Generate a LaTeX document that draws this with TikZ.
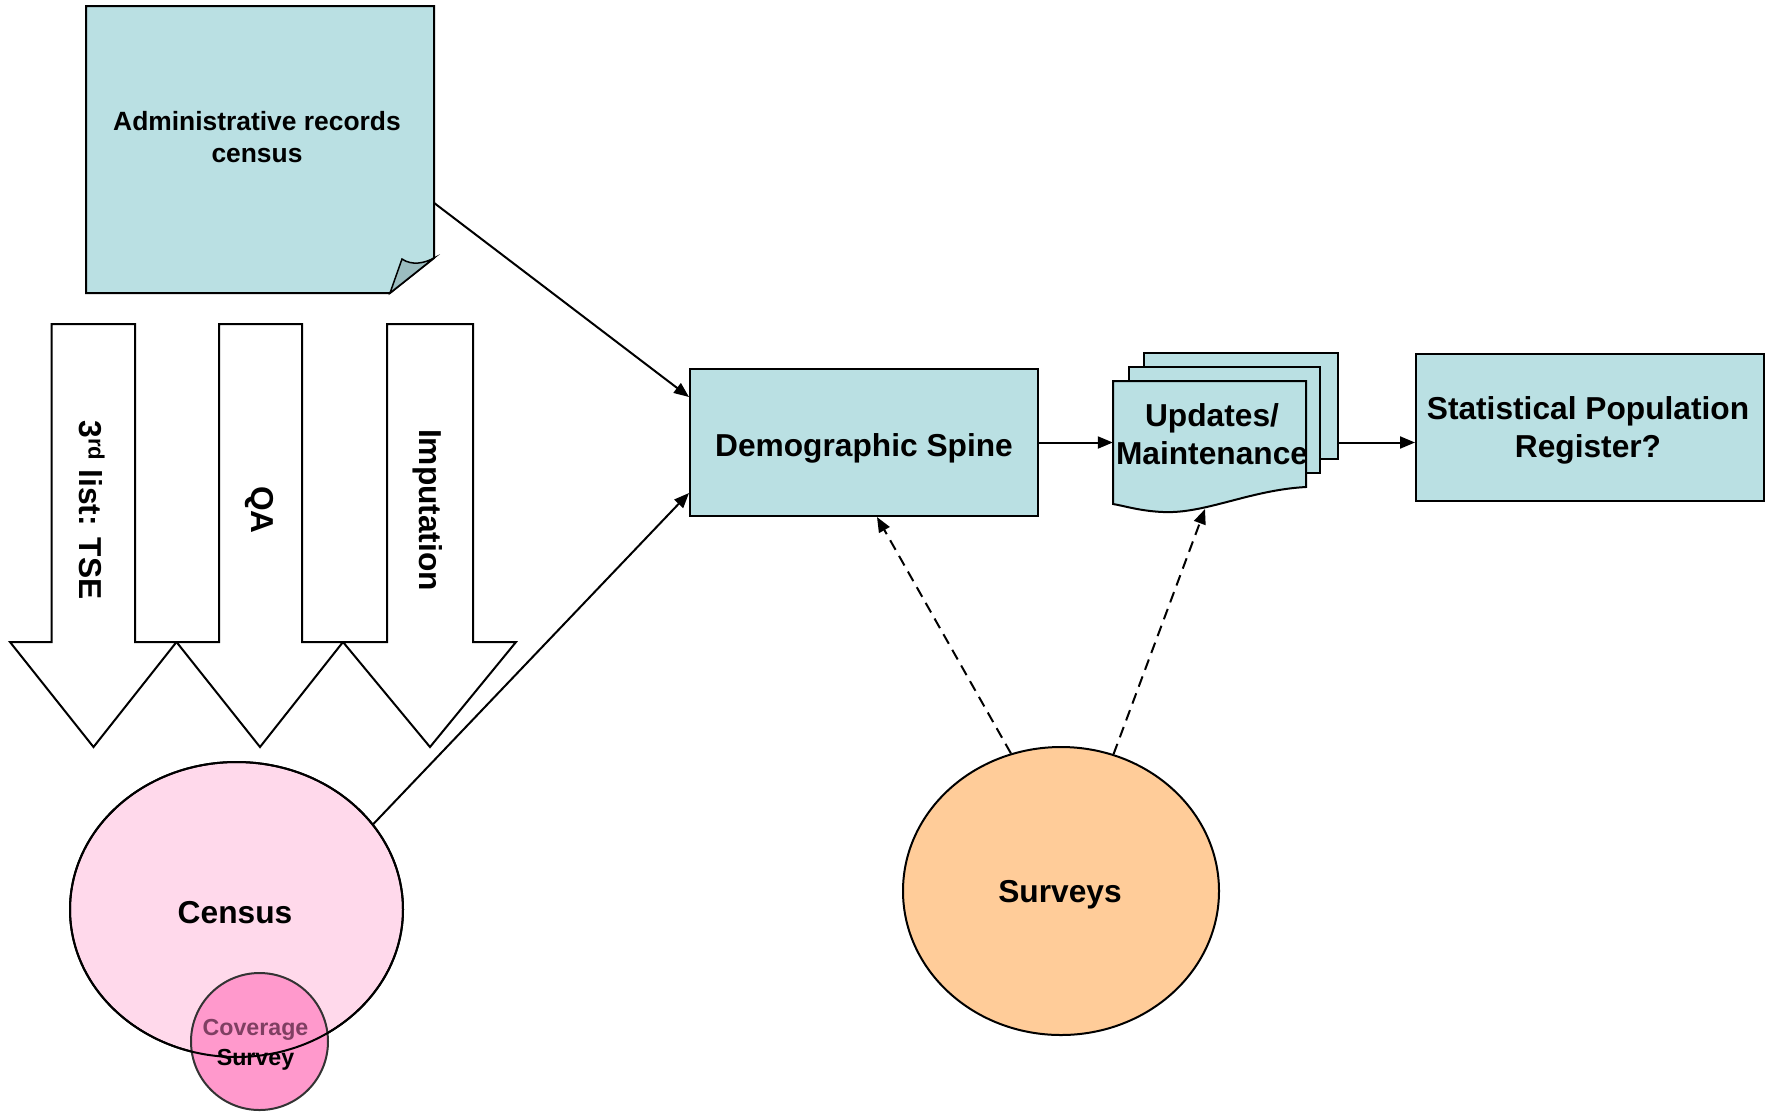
\documentclass[tikz,border=0pt]{standalone}
\usepackage{fontspec}
\setmainfont{Liberation Sans}
\usetikzlibrary{shapes.geometric,arrows.meta,calc}
\definecolor{docfill}{HTML}{BAE0E3}
\definecolor{foldfill}{HTML}{9BBDC0}
\definecolor{censusfill}{HTML}{FFD9EB}
\definecolor{covfill}{HTML}{FF99CC}
\definecolor{covtxt}{HTML}{7F3F62}
\definecolor{survfill}{HTML}{FFCC99}
\begin{document}
\begin{tikzpicture}[x=1pt,y=-1pt,line join=miter,
  outl/.style={draw=black,line width=2pt},
  bigtext/.style={font=\fontsize{31.7}{38}\selectfont\bfseries,align=center,inner sep=0pt},
  admtext/.style={font=\fontsize{26.4}{31.5}\selectfont\bfseries,align=center,inner sep=0pt},
  covtext/.style={font=\fontsize{23.2}{30}\selectfont\bfseries,align=center,inner sep=0pt},
  conn/.style={line width=2pt,-{Triangle[length=15pt,width=12pt]}},
  dconn/.style={conn,dash pattern=on 11pt off 7pt},
  fatarrow/.style={draw=black,line width=2pt,fill=white},
  ghost/.style={inner sep=0pt,draw=none}]
\useasboundingbox (0,0) rectangle (1779,1112);

% Administrative records document with folded corner
\node[ghost,minimum width=348pt,minimum height=287pt] (admin) at (260,149.5) {};
\draw[outl,fill=docfill] (86,6) -- (434,6) -- (434,258) -- (390,293) -- (86,293) -- cycle;
\draw[line width=1.5pt,fill=foldfill] (390,293) -- (402,259) .. controls (412,266) and (425,263) .. (434,258) -- cycle;
\node[admtext] (admintxt) at (257,137) {Administrative records\\census};

% three fat arrows
\draw[fatarrow] (51.5,324) -- (135,324) -- (135,642) -- (176.5,642) -- (93.5,747) -- (10,642) -- (51.5,642) -- cycle;
\draw[fatarrow] (219,324) -- (302,324) -- (302,642) -- (343,642) -- (260,747) -- (176.5,642) -- (219,642) -- cycle;
\draw[fatarrow] (387,324) -- (473,324) -- (473,642) -- (516,642) -- (430,747) -- (343,642) -- (387,642) -- cycle;
\node[bigtext,rotate=-90] (tse) at (92,510) {3\textsuperscript{rd} list: TSE};
\node[bigtext,rotate=-90] (qa) at (259.5,510) {QA};
\node[bigtext,rotate=-90] (imp) at (427.5,510) {Imputation};

% Census and coverage survey
\node[ellipse,outl,fill=censusfill,minimum width=333pt,minimum height=295pt,inner sep=0pt] (census) at (236.5,909.5) {};
\node[bigtext] (censustxt) at (235,913) {Census};
\node[circle,draw=black!80,line width=2pt,fill=covfill,minimum size=137pt,inner sep=0pt] (cov) at (259.5,1041.5) {};
\node[covtext] (covlabel) at (255.5,1045) {\textcolor{covtxt}{Coverage}\\Survey};
\draw[line width=2pt] (census.center) ellipse [x radius=166.5, y radius=147.5];

% Surveys
\node[ellipse,outl,fill=survfill,minimum width=316pt,minimum height=288pt,inner sep=0pt] (surv) at (1061,891) {};
\node[bigtext] (survtxt) at (1060,895) {Surveys};

% Demographic spine
\node[rectangle,outl,fill=docfill,minimum width=348pt,minimum height=147pt,inner sep=0pt] (ds) at (864,442.5) {};
\node[bigtext] (dstxt) at (864,448) {Demographic Spine};

% Updates / Maintenance multidocument
\node[rectangle,outl,fill=docfill,minimum width=194pt,minimum height=106pt,inner sep=0pt] (upd3) at (1241,406) {};
\node[rectangle,outl,fill=docfill,minimum width=191pt,minimum height=106pt,inner sep=0pt] (upd2) at (1224.5,420) {};
\draw[outl,fill=docfill] (1113,381) -- (1306,381) -- (1306,487) .. controls (1250,490) and (1205,514) .. (1163,512) .. controls (1140,511) and (1125,506) .. (1113,504) -- cycle;
\node[ghost,minimum width=193pt,minimum height=122pt] (upd) at (1209.5,442) {};
\node[bigtext] (updtxt) at (1212,434) {Updates/\\Maintenance};
\coordinate (updb) at (1205,509);

% Statistical Population Register
\node[rectangle,outl,fill=docfill,minimum width=348pt,minimum height=147pt,inner sep=0pt] (spr) at (1590,427.5) {};
\node[bigtext] (sprtxt) at (1588,430) {Statistical Population\\Register?};

% connectors
\draw[conn] ($(admin.east)+(0,53.5)$) -- ($(ds.west)+(0,-45.5)$);
\draw[conn] (census.32.85) -- ($(ds.west)+(0,50.5)$);
\draw[conn] (ds.east) -- (ds.east -| upd.west);
\draw[conn] (ds.east -| upd3.east) -- (ds.east -| spr.west);
\draw[dconn] (surv.110.3) -- ($(ds.south)+(13,0)$);
\draw[dconn] (surv.69.4) -- (updb);
\end{tikzpicture}
\end{document}
